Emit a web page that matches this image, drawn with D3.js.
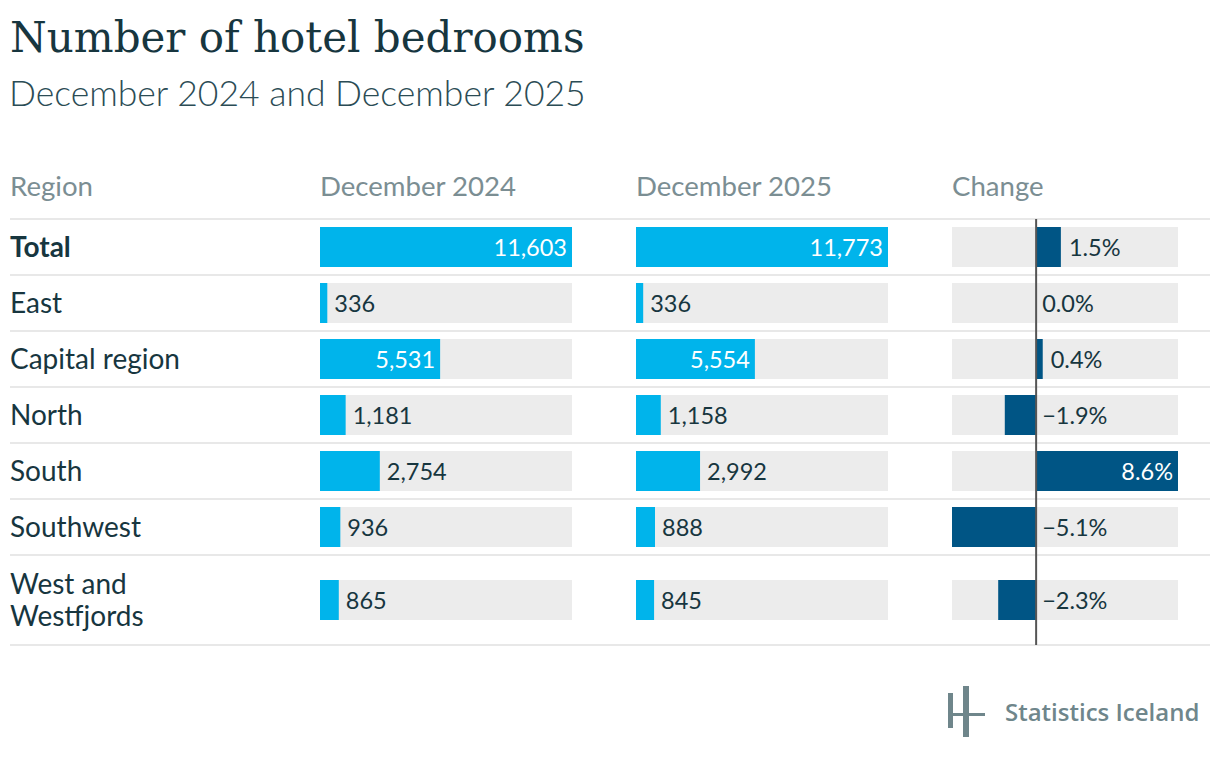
<!DOCTYPE html>
<html>
<head>
<meta charset="utf-8">
<style>
  body { margin: 0; background: #fff; }
  text { font-family: Lato, "Open Sans", sans-serif; }
</style>
</head>
<body>
<svg width="1220" height="762"></svg>
<script src="https://d3js.org/d3.v7.min.js"></script>
<script>
    // data
    let regions = ["Total", "East", "Capital region", "North", "South", "Southwest", "West and\nWestfjords"]
    let dec2024 = [11603, 336, 5531, 1181, 2754, 936, 865]
    let dec2025 = [11773, 336, 5554, 1158, 2992, 888, 845]
    let change = [1.5, 0.0, 0.4, -1.9, 8.6, -5.1, -2.3]
    let headers = ["Region", "December 2024", "December 2025", "Change"]

    let svg = d3.select("svg")
    let dark = "#17363f"

    svg.append("text").attr("x", 10).attr("y", 52)
        .style("font-family", "'DejaVu Serif', serif").style("font-size", "42px")
        .style("fill", dark).text("Number of hotel bedrooms")
    svg.append("text").attr("x", 9).attr("y", 106)
        .style("font-size", "35.5px").style("font-weight", 300)
        .style("fill", "#2b4c55").text("December 2024 and December 2025")

    // header row
    let headX = [10, 320, 636, 952]
    svg.selectAll(".head").data(headers).join("text")
        .attr("x", (d, i) => headX[i]).attr("y", 196)
        .style("font-size", "27.6px").style("fill", "#7b8e93").text(d => d)

    // rows
    let rowH = regions.map(d => d.includes("\n") ? 90 : 56)
    let rowTop = []
    let acc = 219
    rowH.forEach(h => { rowTop.push(acc); acc += h })
    let bottom = acc

    let lines = [219].concat(rowTop.map((t, i) => t + rowH[i]))
    svg.selectAll(".sep").data(lines).join("line")
        .attr("x1", 10).attr("x2", 1210).attr("y1", d => d).attr("y2", d => d)
        .style("stroke", "#e8e8e8").style("stroke-width", 2)

    let mid = i => rowTop[i] + rowH[i] / 2
    let barH = 40

    // region names
    regions.forEach((r, i) => {
        let parts = r.split("\n")
        let t = svg.append("text").attr("x", 10)
            .style("font-size", "28px").style("fill", dark)
            .style("font-weight", i == 0 ? 700 : 400)
        parts.forEach((p, j) => {
            t.append("tspan").attr("x", 10)
                .attr("y", mid(i) + (j - (parts.length - 1) / 2) * 32)
                .attr("dy", "0.35em").text(p)
        })
    })

    function valueColumn(values, x0) {
        let x = d3.scaleLinear().domain([0, d3.max(values)]).range([x0, x0 + 252])
        svg.selectAll(null).data(values).join("rect")
            .attr("x", x0).attr("width", 252)
            .attr("y", (d, i) => mid(i) - barH / 2).attr("height", barH)
            .style("fill", "#ececec")
        svg.selectAll(null).data(values).join("rect")
            .attr("x", x0).attr("width", d => x(d) - x0)
            .attr("y", (d, i) => mid(i) - barH / 2).attr("height", barH)
            .style("fill", "#00b4eb")
        svg.selectAll(null).data(values).join("text")
            .attr("y", (d, i) => mid(i) + 1).attr("dy", "0.35em")
            .style("font-size", "23.5px")
            .each(function (d) {
                let inside = x(d) - x0 > 90
                d3.select(this)
                    .attr("x", inside ? x(d) - 5 : x(d) + 7)
                    .attr("text-anchor", inside ? "end" : "start")
                    .style("fill", inside ? "#fff" : dark)
                    .text(d3.format(",")(d))
            })
    }
    valueColumn(dec2024, 320)
    valueColumn(dec2025, 636)

    // change column
    let cx = d3.scaleLinear().domain([d3.min(change), d3.max(change)]).range([952, 1178])
    svg.selectAll(null).data(change).join("rect")
        .attr("x", 952).attr("width", 226)
        .attr("y", (d, i) => mid(i) - barH / 2).attr("height", barH)
        .style("fill", "#ececec")
    svg.selectAll(null).data(change).join("rect")
        .attr("x", d => Math.min(cx(d), cx(0))).attr("width", d => Math.abs(cx(d) - cx(0)))
        .attr("y", (d, i) => mid(i) - barH / 2).attr("height", barH)
        .style("fill", "#005585")
    svg.append("line")
        .attr("x1", cx(0)).attr("x2", cx(0)).attr("y1", 219).attr("y2", bottom)
        .style("stroke", "#555").style("stroke-width", 2)
    svg.selectAll(null).data(change).join("text")
        .attr("y", (d, i) => mid(i) + 1).attr("dy", "0.35em")
        .style("font-size", "23.5px")
        .each(function (d) {
            let inside = cx(d) - cx(0) > 70
            let lbl = (d < 0 ? "\u2212" : "") + Math.abs(d).toFixed(1) + "%"
            d3.select(this)
                .attr("x", inside ? cx(d) - 5 : (d > 0 ? cx(d) + 8 : cx(0) + 6))
                .attr("text-anchor", inside ? "end" : "start")
                .style("fill", inside ? "#fff" : dark)
                .text(lbl)
        })

    // logo
    let logo = svg.append("g").style("fill", "#6f868b")
    logo.append("rect").attr("x", 948).attr("y", 693).attr("width", 5).attr("height", 35)
    logo.append("rect").attr("x", 963).attr("y", 686).attr("width", 6).attr("height", 51)
    logo.append("rect").attr("x", 948).attr("y", 713).attr("width", 37).attr("height", 3)
    svg.append("text").attr("x", 1005).attr("y", 721)
        .style("font-family", "'Open Sans', sans-serif").style("font-size", "24px")
        .style("font-weight", 600).style("fill", "#6f868b").text("Statistics Iceland")
</script>
</body>
</html>
